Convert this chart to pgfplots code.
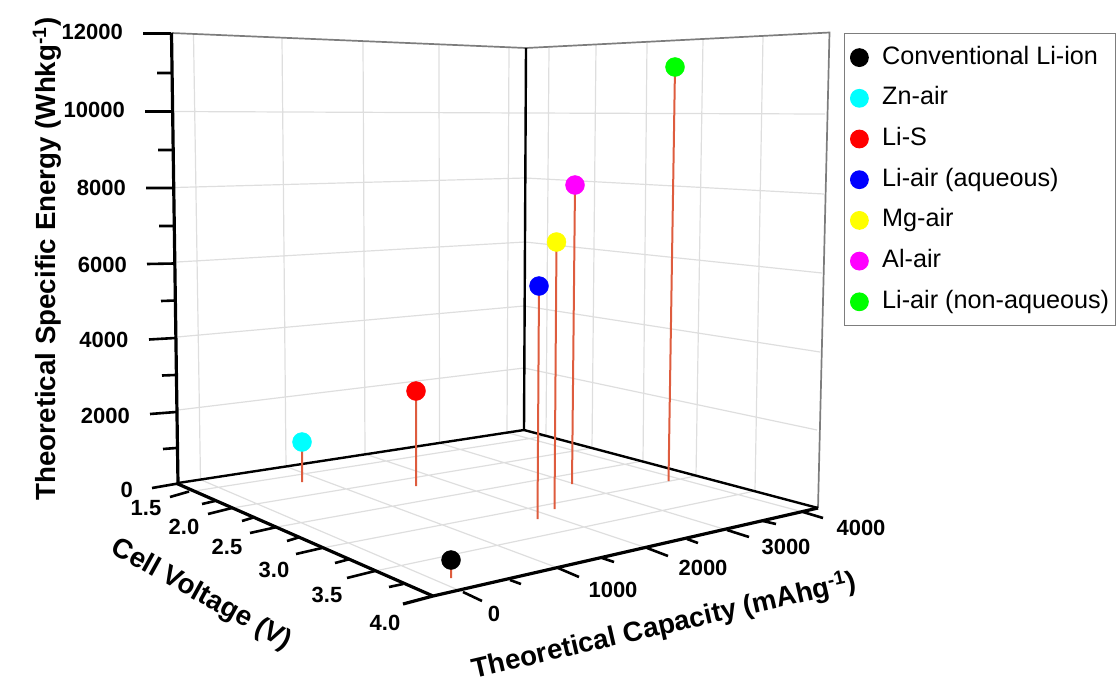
\documentclass[border=0pt]{standalone}
\usepackage{fontspec}
\setmainfont{Liberation Sans}
\usepackage{pgfplots}
\pgfplotsset{compat=1.18}
\newcommand{\tl}{\fontsize{22}{26}\selectfont\bfseries}
\newcommand{\al}{\fontsize{27.7}{32}\selectfont\bfseries}
\definecolor{stem}{RGB}{222,92,62}
\definecolor{gridc}{RGB}{222,222,222}
\definecolor{wallc}{RGB}{125,125,125}
\definecolor{pcyan}{RGB}{0,255,255}
\definecolor{pmag}{RGB}{255,0,255}
\definecolor{pyel}{RGB}{255,255,0}
\definecolor{pgrn}{RGB}{0,255,0}
\definecolor{pblu}{RGB}{0,0,255}
\definecolor{pred}{RGB}{255,0,0}
\begin{document}
\begin{tikzpicture}
\path[use as bounding box] (0,0) rectangle (1118pt,683pt);
% The reference is a perspective 3-D view: every value below is its projected position on the page.
\begin{axis}[
  at={(0,0)}, anchor=south west,
  scale only axis, width=1118pt, height=683pt,
  xmin=0, xmax=1118, ymin=0, ymax=683, y dir=reverse,
  hide axis, clip=false, unbounded coords=jump,
  legend cell align=left,
  legend style={at={(axis cs:844,33)}, anchor=north west, draw=wallc, line width=1.2pt,
    font=\fontsize{25.2}{29}\selectfont, row sep=17.7pt, inner xsep=6pt, inner ysep=12.5pt,
    nodes={inner sep=0pt,text depth=5pt,text height=18pt},
    /tikz/column 2/.append style={column sep=0pt},
    /tikz/every odd column/.append style={column sep=14pt}},
  legend image post style={mark size=8.8pt},
]
% wall and floor grid
\addplot[gridc, line width=1.2pt, forget plot] coordinates {
 (193.5,35)(200.5,479.6) (nan,nan) (282,39)(286,466.5) (nan,nan) (363,42)(365,454) (nan,nan) (439,44)(439.5,443) (nan,nan) (509,47)(507,432.6) (nan,nan)
 (549,47)(546,436) (nan,nan) (596,44.5)(592,448) (nan,nan) (647,42)(643,461) (nan,nan) (703,39)(696,476) (nan,nan) (763,36)(755,491) (nan,nan)
 (174,111.5)(526,113) (nan,nan) (175,187.5)(525,178) (nan,nan) (177,262)(525,242) (nan,nan) (177,337)(524,306) (nan,nan) (178,410)(524,368) (nan,nan)
 (526,113)(825,114) (nan,nan) (525,178)(824,194) (nan,nan) (525,242)(822,273) (nan,nan) (524,306)(820,352) (nan,nan) (524,368)(817,430) (nan,nan)
 (200.5,479.6)(463,592) (nan,nan) (286,466.5)(558,568) (nan,nan) (365,454)(647,548) (nan,nan) (439,443)(727,530) (nan,nan) (507,432.6)(803,512) (nan,nan)
 (188,492)(546,436) (nan,nan) (232,508)(592,448) (nan,nan) (277,527)(643,461) (nan,nan) (322,548)(696,476) (nan,nan) (375,571)(755,491)
};
% grey box edges
\addplot[wallc, line width=1.7pt, forget plot] coordinates {(171.5,33)(526,48)(829.5,32.5)(818,508)};
% black axes
\addplot[black, line width=2.4pt, forget plot] coordinates {(526,48)(524,430)};
\addplot[black, line width=2.4pt, forget plot] coordinates {(178,483)(524,430)(818,508)};
\addplot[black, line width=3.2pt, forget plot] coordinates {(171.5,33)(178,484)(433,596)};
\addplot[black, line width=3.2pt, forget plot] coordinates {(403,604)(433,596)(818,508)};
% ticks
\addplot[black, line width=2.6pt, forget plot] coordinates {
 (143,33.5)(171,33.5) (nan,nan) (157,73)(172,73) (nan,nan) (145,111.5)(173,111.5) (nan,nan) (158,150)(173,150) (nan,nan) (146,188)(174,188) (nan,nan) (159,226)(174,226) (nan,nan)
 (147,264)(174,263.5) (nan,nan) (161,301)(175,300.5) (nan,nan) (149,339.5)(175,338) (nan,nan) (162,375.5)(175,375) (nan,nan) (150,414)(176,412) (nan,nan) (163,449)(176,448) (nan,nan) (152,488)(178,483.5) (nan,nan)
 (170,497)(189,491.5) (nan,nan) (202,504)(215,501) (nan,nan) (208,514)(232,508) (nan,nan) (242,521)(255,517) (nan,nan) (250,533)(277,527) (nan,nan) (287,541)(300,537) (nan,nan)
 (296,554)(322,548) (nan,nan) (335,563)(350,559) (nan,nan) (347,578)(375,571) (nan,nan) (389,587)(403,584) (nan,nan)
 (463,592)(482,601) (nan,nan) (510,580)(521,584) (nan,nan) (558,568)(579,577) (nan,nan) (602,558)(614,562) (nan,nan) (647,548)(668,556) (nan,nan) (687,539)(698,543) (nan,nan)
 (727,530)(749,537) (nan,nan) (763,521)(776,524) (nan,nan) (803,512)(823,518)
};
% stems
\addplot[stem, line width=2pt, forget plot] coordinates {
 (451,560)(451,578) (nan,nan) (302,442)(302,482) (nan,nan) (416,391)(416,486) (nan,nan) (539,286)(537.5,519) (nan,nan)
 (556.5,242)(554.5,509) (nan,nan) (575,185)(572,484) (nan,nan) (675,67)(668.5,481)
};
% points
\addplot[only marks, mark=*, mark size=9.5pt, draw=black, fill=black] coordinates {(451,560)};
\addlegendentry{Conventional Li-ion}
\addplot[only marks, mark=*, mark size=9.5pt, draw=pcyan, fill=pcyan] coordinates {(302,442)};
\addlegendentry{Zn-air}
\addplot[only marks, mark=*, mark size=9.5pt, draw=pred, fill=pred] coordinates {(416,391)};
\addlegendentry{Li-S}
\addplot[only marks, mark=*, mark size=9.5pt, draw=pblu, fill=pblu] coordinates {(539,286)};
\addlegendentry{Li-air (aqueous)}
\addplot[only marks, mark=*, mark size=9.5pt, draw=pyel, fill=pyel] coordinates {(556.5,242)};
\addlegendentry{Mg-air}
\addplot[only marks, mark=*, mark size=9.5pt, draw=pmag, fill=pmag] coordinates {(575,185)};
\addlegendentry{Al-air}
\addplot[only marks, mark=*, mark size=9.5pt, draw=pgrn, fill=pgrn] coordinates {(675,67)};
\addlegendentry{Li-air (non-aqueous)}
% tick labels
\node[anchor=east,font=\tl,inner sep=0pt] at (axis cs:123,32) {12000};
\node[anchor=east,font=\tl,inner sep=0pt] at (axis cs:125,110) {10000};
\node[anchor=east,font=\tl,inner sep=0pt] at (axis cs:126,188) {8000};
\node[anchor=east,font=\tl,inner sep=0pt] at (axis cs:127,265) {6000};
\node[anchor=east,font=\tl,inner sep=0pt] at (axis cs:128.5,340) {4000};
\node[anchor=east,font=\tl,inner sep=0pt] at (axis cs:130,416) {2000};
\node[anchor=east,font=\tl,inner sep=0pt] at (axis cs:133,490) {0};
\node[font=\tl,inner sep=0pt] at (axis cs:146,508) {1.5};
\node[font=\tl,inner sep=0pt] at (axis cs:184,527) {2.0};
\node[font=\tl,inner sep=0pt] at (axis cs:227,547) {2.5};
\node[font=\tl,inner sep=0pt] at (axis cs:274,570) {3.0};
\node[font=\tl,inner sep=0pt] at (axis cs:327,595) {3.5};
\node[font=\tl,inner sep=0pt] at (axis cs:385,623) {4.0};
\node[font=\tl,inner sep=0pt] at (axis cs:494,614) {0};
\node[font=\tl,inner sep=0pt] at (axis cs:613,590) {1000};
\node[font=\tl,inner sep=0pt] at (axis cs:703,568) {2000};
\node[font=\tl,inner sep=0pt] at (axis cs:786,547) {3000};
\node[font=\tl,inner sep=0pt] at (axis cs:861,528) {4000};
% axis titles
\node[rotate=90,font=\al,inner sep=0pt] at (axis cs:47,259) {Theoretical Specific Energy (Whkg\textsuperscript{-1})};
\node[rotate=-29,font=\al,inner sep=0pt] at (axis cs:201,595) {Cell Voltage (V)};
\node[rotate=13,font=\al,inner sep=0pt] at (axis cs:664,626) {Theoretical Capacity (mAhg\textsuperscript{-1})};
\end{axis}
\end{tikzpicture}
\end{document}
